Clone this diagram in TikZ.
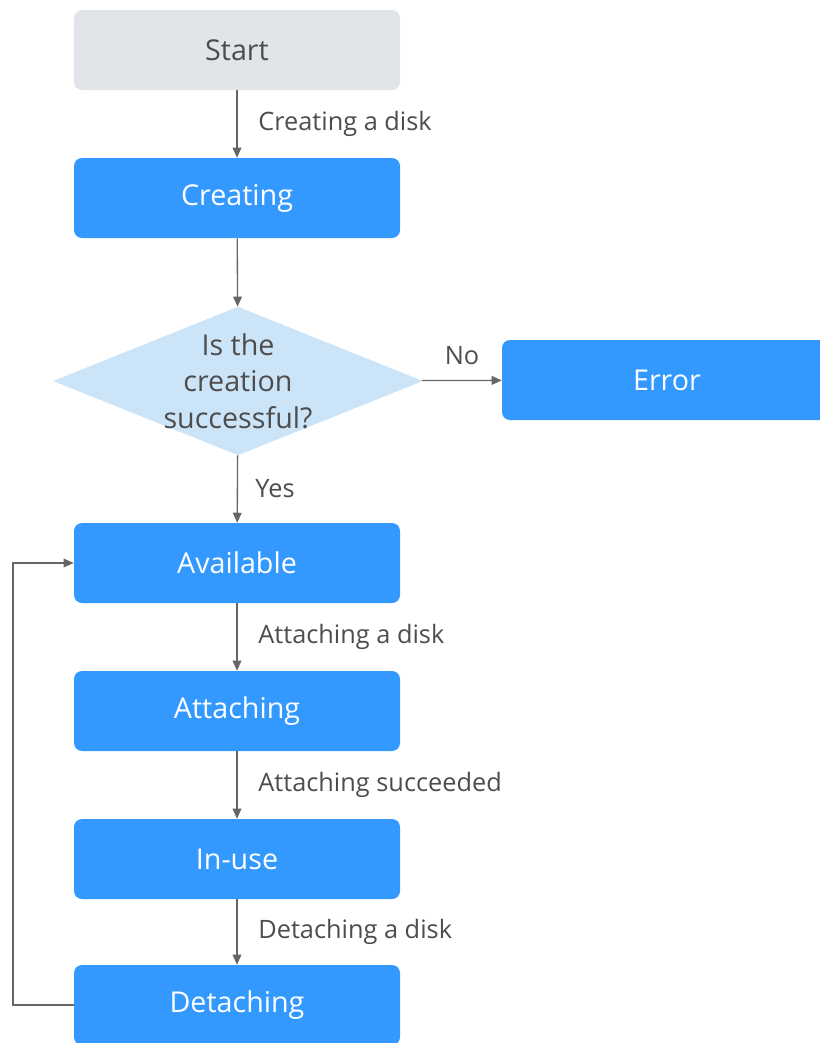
\documentclass[tikz,border=0pt]{standalone}
\usepackage{fontspec}
\setmainfont{Open Sans}
\usetikzlibrary{shapes.geometric,arrows.meta}
\definecolor{boxblue}{HTML}{3399FF}
\definecolor{startgray}{HTML}{E1E4E8}
\definecolor{decblue}{HTML}{CCE4F8}
\definecolor{linegray}{HTML}{666666}
\definecolor{txtgray}{HTML}{4D4D4D}
\tikzset{
  x=0.75pt, y=-0.75pt,
  stepbox/.style={rectangle, rounded corners=6pt, fill=boxblue, text=white,
    minimum width=244.5pt, minimum height=60pt, inner sep=0pt,
    font=\fontsize{21.5}{26}\selectfont},
  startbox/.style={stepbox, fill=startgray, text=txtgray},
  decision/.style={diamond, fill=decblue, text=txtgray, inner sep=-1.8pt, aspect=2.49,
    minimum width=276.75pt, minimum height=111pt, align=center,
    font=\fontsize{21.5}{27.5}\selectfont},
  flow/.style={draw=linegray, line width=1pt, -{Triangle[length=7.5pt,width=6.5pt]}},
  lbl/.style={text=txtgray, font=\fontsize{19}{22}\selectfont, inner sep=0pt}
}
\begin{document}
\begin{tikzpicture}
\useasboundingbox (0,0) rectangle (820,1043);
\node[startbox] (start) at (237,50) {Start};
\node[stepbox] (creating) at (237,198) {Creating};
\node[decision] (dec) at (238,381) {Is the\\creation\\successful?};
\node[stepbox, minimum width=247.5pt] (error) at (667,380) {Error};
\node[stepbox] (available) at (237,563) {Available};
\node[stepbox] (attaching) at (237,711) {Attaching};
\node[stepbox] (inuse) at (237,859) {In-use};
\node[stepbox] (detaching) at (237,1005) {Detaching};
\coordinate (loopx) at (13,0);

\draw[flow] (start) -- node[lbl, right=15.5pt] {Creating a disk} (creating);
\draw[flow] (creating) -- (dec);
\draw[flow] (dec) -- node[lbl, above=11pt] {No} (error);
\draw[flow] (dec) -- node[lbl, right=13pt] {Yes} (available);
\draw[flow] (available) -- node[lbl, right=15.5pt] {Attaching a disk} (attaching);
\draw[flow] (attaching) -- node[lbl, right=15.5pt] {Attaching succeeded} (inuse);
\draw[flow] (inuse) -- node[lbl, right=15.5pt] {Detaching a disk} (detaching);
\draw[flow] (detaching.west) -- (detaching.west -| loopx) |- (available.west);
\end{tikzpicture}
\end{document}
